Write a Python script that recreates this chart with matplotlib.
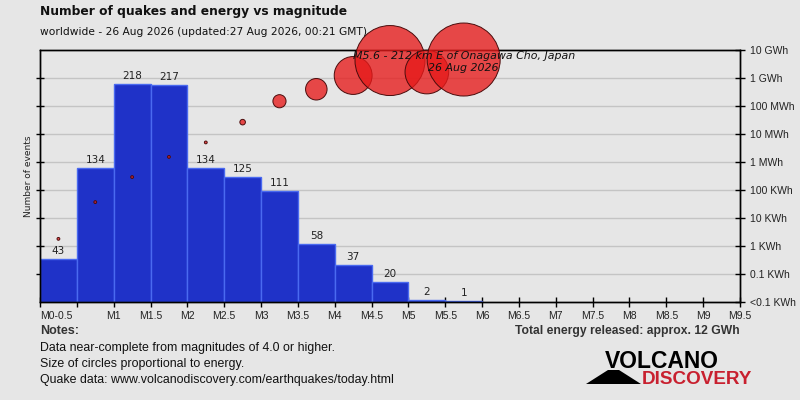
import matplotlib
matplotlib.use("Agg")
import matplotlib.pyplot as plt
from matplotlib.patches import Polygon
import numpy as np

# ---- data ----
bin_left = [0.0, 0.5, 1.0, 1.5, 2.0, 2.5, 3.0, 3.5, 4.0, 4.5, 5.0, 5.5]
counts = [43, 134, 218, 217, 134, 125, 111, 58, 37, 20, 2, 1]
# energy released per bin, kWh
energy_kwh = [1.8, 37, 290, 1520, 5000, 26500, 148000, 396000,
              1.23e6, 4.2e6, 1.63e6, 4.57e6]
x_tick_pos = [0, 1, 1.5, 2, 2.5, 3, 3.5, 4, 4.5, 5, 5.5, 6, 6.5, 7, 7.5, 8, 8.5, 9, 9.5]
x_tick_labels = ["M0-0.5", "M1", "M1.5", "M2", "M2.5", "M3", "M3.5", "M4", "M4.5",
                 "M5", "M5.5", "M6", "M6.5", "M7", "M7.5", "M8", "M8.5", "M9", "M9.5"]
e_tick_vals = [0.01, 0.1, 1, 10, 100, 1e3, 1e4, 1e5, 1e6, 1e7]
e_tick_labels = ["<0.1 KWh", "0.1 KWh", "1 KWh", "10 KWh", "100 KWh", "1 MWh",
                 "10 MWh", "100 MWh", "1 GWh", "10 GWh"]
title = "Number of quakes and energy vs magnitude"
subtitle = "worldwide - 26 Aug 2026 (updated:27 Aug 2026, 00:21 GMT)"
annotation = "M5.6 - 212 km E of Onagawa Cho, Japan\n26 Aug 2026"
notes = ["Data near-complete from magnitudes of 4.0 or higher.",
         "Size of circles proportional to energy.",
         "Quake data: www.volcanodiscovery.com/earthquakes/today.html"]
total_text = "Total energy released: approx. 12 GWh"

BG = "#e6e6e6"
NARROW = ["Liberation Sans", "DejaVu Sans"]

W, H = 800, 400
fig = plt.figure(figsize=(8, 4), dpi=100, facecolor=BG)


def fx(px):
    return px / W


def fy(py):
    return 1 - py / H


ax = fig.add_axes([fx(40), fy(302), fx(740) - fx(40), fy(50) - fy(302)])
ax.set_facecolor(BG)
ax.set_xlim(0, 9.5)
ax.set_ylim(0, 252)

ax2 = ax.twinx()
ax2.set_yscale("log")
ax2.set_ylim(0.01, 1e7)
ax.set_zorder(1)
ax2.set_zorder(2)
ax2.patch.set_visible(False)

# gridlines at the energy decades (drawn on ax, behind bars)
for i in range(1, 9):
    ax.axhline(28 * i, color="#c4c4c4", lw=1, zorder=0)

ax.bar(bin_left, counts, width=0.5, align="edge", color="#1f32c8",
       edgecolor="#4a6af0", linewidth=1, zorder=2)
for xl, c in zip(bin_left, counts):
    ax.text(xl + 0.25, c + 3, str(c), ha="center", va="bottom", fontsize=7.5,
            color="#222222", zorder=3)

# energy circles (area proportional to energy)
centers = [b + 0.25 for b in bin_left]
k = 36.5 / np.sqrt(max(energy_kwh))
radii = [max(k * np.sqrt(e), 1.4) for e in energy_kwh]
sizes = [(2 * r * 0.72) ** 2 for r in radii]
ax2.scatter(centers, energy_kwh, s=sizes, facecolor=(0.9, 0.1, 0.1, 0.78),
            edgecolor="#4a0c0c", linewidth=0.7, zorder=5, clip_on=False)

ax2.text(5.75, 1.0 - 1 / 252, annotation, transform=ax2.get_xaxis_transform(),
         ha="center", va="top", fontsize=7.9, style="italic", color="#111111",
         zorder=6, linespacing=1.3)

for a in (ax, ax2):
    for s in a.spines.values():
        s.set_color("black")
        s.set_linewidth(1)

all_ticks = list(np.arange(0, 9.51, 0.5))
labels = [x_tick_labels[x_tick_pos.index(t)] if t in x_tick_pos else "" for t in all_ticks]
ax.set_xticks(all_ticks)
ax.set_xticklabels(labels, fontsize=7.5, family=NARROW, color="#222222")
ax.get_xticklabels()[0].set_ha("left")
ax.tick_params(axis="x", direction="inout", length=7, width=1, pad=3)

ax.set_yticks([28 * i for i in range(1, 9)])
ax.set_yticklabels([])
ax.tick_params(axis="y", direction="inout", length=6, width=1)
ax.set_ylabel("Number of events", fontsize=6.5, color="#222222", va="center")
ax.yaxis.set_label_coords(-11 / 700, 0.5)

ax2.set_yticks(e_tick_vals)
ax2.set_yticklabels(e_tick_labels, fontsize=7.5, family=NARROW, color="#222222")
ax2.yaxis.set_minor_locator(matplotlib.ticker.NullLocator())
ax2.tick_params(axis="y", direction="inout", length=7, width=1, pad=4)

# titles
fig.text(fx(40), fy(5), title, fontsize=8.8, fontweight="bold", ha="left", va="top",
         color="#111111")
fig.text(fx(40), fy(27), subtitle, fontsize=7.7, ha="left", va="top", color="#111111")

# notes
fig.text(fx(40), fy(325), "Notes:", fontsize=9, fontweight="bold", ha="left", va="top",
         color="#333333", family=NARROW)
for i, line in enumerate(notes):
    fig.text(fx(40), fy(342 + 16 * i), line, fontsize=8.9, ha="left", va="top",
             color="#111111", family=NARROW)
fig.text(fx(740), fy(325), total_text, fontsize=8.7, fontweight="bold", ha="right",
         va="top", color="#333333", family=NARROW)

# logo
fig.text(fx(605), fy(368), "VOLCANO", fontsize=16.5, fontweight="bold", ha="left",
         va="baseline", color="black", family=NARROW)
fig.text(fx(642), fy(384), "DISCOVERY", fontsize=13.6, fontweight="bold", ha="left",
         va="baseline", color="#c8202f", family=NARROW)
tri = Polygon([(fx(586), fy(384)), (fx(608), fy(370)), (fx(619), fy(370)),
               (fx(641), fy(384))], closed=True, transform=fig.transFigure,
              facecolor="black", edgecolor="none")
fig.patches.append(tri)

fig.savefig("out.png", dpi=100, facecolor=BG)
